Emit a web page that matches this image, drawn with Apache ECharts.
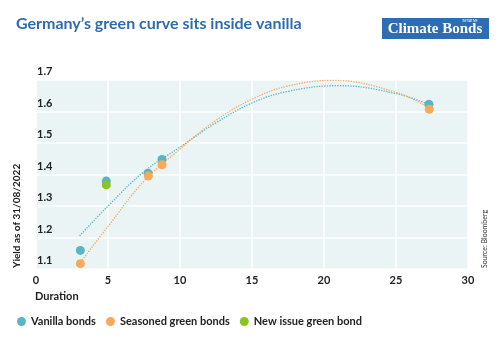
<!DOCTYPE html>
<html><head><meta charset="utf-8">
<script src="https://cdn.jsdelivr.net/npm/echarts@6/dist/echarts.min.js"></script>
<style>html,body{margin:0;padding:0;background:#fff}#c{width:504px;height:342px}</style>
</head><body><div id="c"></div>
<script>
var title = "Germany’s green curve sits inside vanilla";
var yTicks = [1.1, 1.2, 1.3, 1.4, 1.5, 1.6, 1.7];
var xTicks = [0, 5, 10, 15, 20, 25, 30];
var vanillaBonds = [[3.08, 1.159], [4.88, 1.379], [7.78, 1.404], [8.75, 1.448], [27.29, 1.623]];
var seasonedGreen = [[3.08, 1.117], [7.8, 1.395], [8.75, 1.431], [27.31, 1.607]];
var newIssueGreen = [[4.88, 1.367]];
var vanillaTrend = [[3.03, 1.205], [5, 1.30], [7.5, 1.409], [10, 1.487], [12.5, 1.564], [15, 1.627], [17.5, 1.664], [21, 1.682], [25, 1.657], [27.3, 1.622]];
var seasonedTrend = [[3.1, 1.122], [5, 1.235], [7.5, 1.379], [10, 1.481], [12.5, 1.572], [15, 1.639], [17.5, 1.681], [20.6, 1.699], [25, 1.661], [27.3, 1.611]];

var cBlue = '#58b5c5', cOrange = '#f8a95c', cGreen = '#8dc21f';
var font = 'Lato';
var chart = echarts.init(document.getElementById('c'));
chart.setOption({
  animation: false,
  textStyle: {fontFamily: font},
  grid: {left: 36, right: 36, top: 80, bottom: 73, show: true, backgroundColor: '#eaf4f4', borderWidth: 0},
  xAxis: {type: 'value', min: 0, max: 30, interval: 5,
    axisLine: {show: false}, axisTick: {show: false},
    splitLine: {show: true, lineStyle: {color: '#ffffff', width: 1.5}},
    axisLabel: {color: '#222', fontWeight: 'bold', fontSize: 11, margin: 6, fontFamily: font,
      formatter: function(v){ return xTicks.indexOf(v) >= 0 ? String(v) : ''; }}
  },
  yAxis: {type: 'value', min: 1.1, max: 1.7, interval: 0.1,
    axisLine: {show: false}, axisTick: {show: false},
    splitLine: {show: true, lineStyle: {color: '#ffffff', width: 1.5}},
    axisLabel: {inside: true, align: 'left', verticalAlign: 'bottom', padding: [0, 0, 3, 0], margin: 1,
      color: '#222', fontWeight: 'bold', fontSize: 11, fontFamily: font,
      formatter: function(v){ var r = Math.round(v*10)/10; return yTicks.indexOf(r) >= 0 ? r.toFixed(1) : ''; }}
  },
  legend: {left: 12, top: 311, itemWidth: 9, itemHeight: 9, itemGap: 10, icon: 'circle',
    textStyle: {color: '#222', fontWeight: 'bold', fontSize: 11, fontFamily: font},
    data: ['Vanilla bonds', 'Seasoned green bonds', 'New issue green bond']},
  series: [
    {name: 'Vanilla trend', type: 'line', data: vanillaTrend, smooth: 0.4, showSymbol: false, silent: true,
      lineStyle: {color: cBlue, width: 1.3, type: 'dotted'}, z: 2},
    {name: 'Seasoned trend', type: 'line', data: seasonedTrend, smooth: 0.4, showSymbol: false, silent: true,
      lineStyle: {color: cOrange, width: 1.3, type: 'dotted'}, z: 2},
    {name: 'Vanilla bonds', type: 'scatter', data: vanillaBonds, symbolSize: 9, itemStyle: {color: cBlue, opacity: 1}, z: 3},
    {name: 'Seasoned green bonds', type: 'scatter', data: seasonedGreen, symbolSize: 9, itemStyle: {color: cOrange, opacity: 1}, z: 4},
    {name: 'New issue green bond', type: 'scatter', data: newIssueGreen, symbolSize: 9, itemStyle: {color: cGreen, opacity: 1}, z: 5}
  ],
  graphic: [
    {type: 'text', left: 16, top: 16, style: {text: title, fill: '#2f6bad', font: 'bold 16px ' + font}},
    {type: 'rect', shape: {x: 382, y: 18, width: 107, height: 21}, style: {fill: '#2e6db4'}},
    {type: 'text', x: 435, y: 29, style: {text: 'Climate Bonds', fill: '#fff', font: 'bold 15px "Liberation Serif"', align: 'center', verticalAlign: 'middle'}},
    {type: 'text', x: 470, y: 21.5, style: {text: 'INITIATIVE', fill: '#fff', font: '3px "Liberation Sans"', align: 'center', verticalAlign: 'middle'}},
    {type: 'text', x: 35, y: 296, style: {text: 'Duration', fill: '#222', font: 'bold 11px ' + font, align: 'left', verticalAlign: 'middle'}},
    {type: 'text', x: 17, y: 268, rotation: Math.PI/2, style: {text: 'Yield as of 31/08/2022', fill: '#222', font: 'bold 10px ' + font, align: 'left', verticalAlign: 'middle'}},
    {type: 'text', x: 485, y: 268, rotation: Math.PI/2, style: {text: 'Source: Bloomberg', fill: '#333', font: '7px ' + font, align: 'left', verticalAlign: 'middle'}}
  ]
});
</script></body></html>
